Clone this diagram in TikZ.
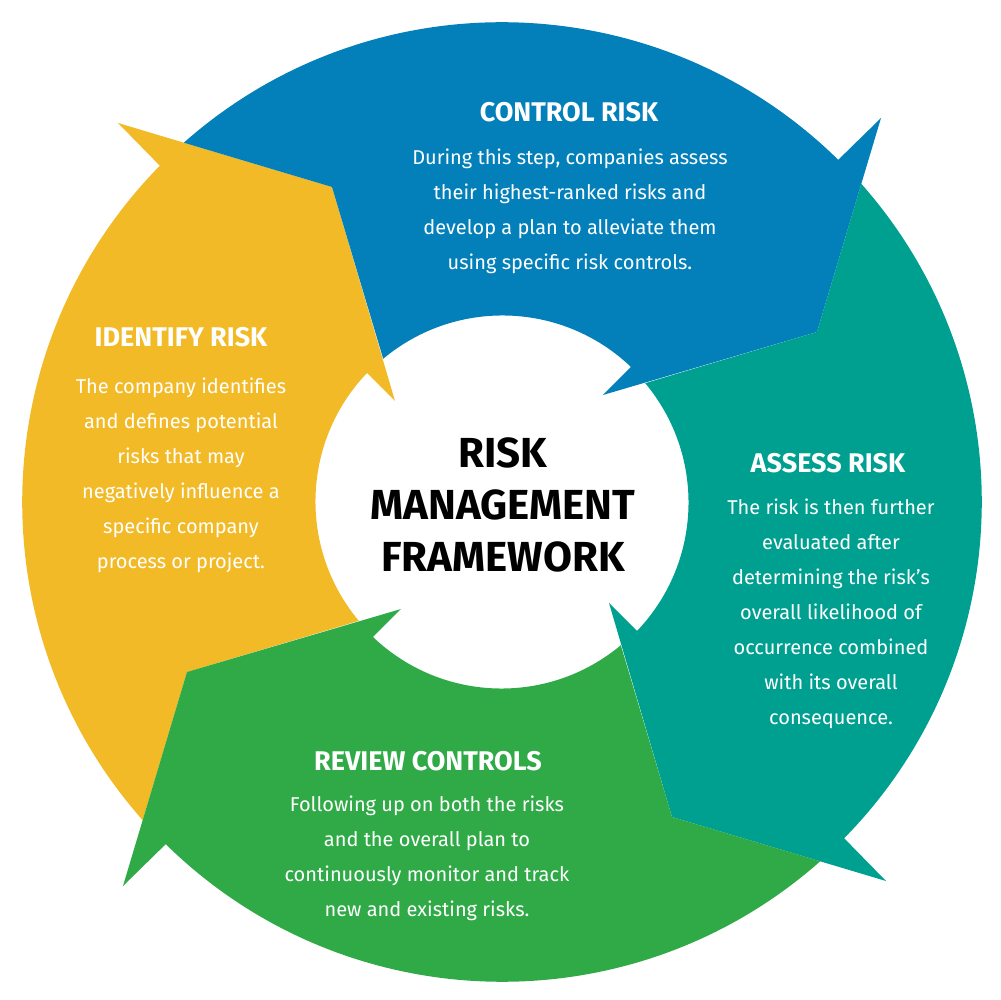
\documentclass[tikz,border=0pt]{standalone}
\usepackage{fontspec}
\setmainfont{Fira Sans}
\definecolor{cyel}{HTML}{F2BA26}
\definecolor{cblu}{HTML}{0380BA}
\definecolor{cteal}{HTML}{00A091}
\definecolor{cgrn}{HTML}{2FAA47}
\begin{document}
\begin{tikzpicture}[x=1pt,y=1pt,
  seg/.pic={\fill[pic actions] (-384,379) -- (-170,315) -- (-107,101) -- (-135,129)
      arc[start angle=136.3,end angle=219.9,radius=186pt] -- (-315,-170) -- (-359.3,-318.2)
      arc[start angle=221.5,end angle=135.5,radius=480pt] -- cycle;},
  head/.style={text=white,font=\fontsize{27}{30}\selectfont\bfseries,inner sep=0,anchor=base},
  body/.style={text=white,font=\fontsize{20}{35}\selectfont,inner sep=0,anchor=north,align=center}]
\useasboundingbox (-502,-498) rectangle (499,502);
\pic[fill=cyel] (segY) at (0,0) {seg};
\pic[fill=cblu,rotate=-90] (segB) at (0,0) {seg};
\pic[fill=cteal,rotate=-180] (segT) at (0,0) {seg};
\pic[fill=cgrn,rotate=90] (segG) at (0,0) {seg};
\node[head] (h1) at (67,380) {CONTROL RISK};
\node[body] (b1) at (68,353) {During this step, companies assess\\their highest-ranked risks and\\develop a plan to alleviate them\\using specific risk controls.};
\node[head] (h2) at (-321,155) {IDENTIFY RISK};
\node[body] (b2) at (-321,124) {The company identifies\\and defines potential\\risks that may\\negatively influence a\\specific company\\process or project.};
\node[head] (h3) at (326,29) {ASSESS RISK};
\node[body] (b3) at (329,3) {The risk is then further\\evaluated after\\determining the risk's\\overall likelihood of\\occurrence combined\\with its overall\\consequence.};
\node[head] (h4) at (-74,-269) {REVIEW CONTROLS};
\node[body] (b4) at (-75,-294) {Following up on both the risks\\and the overall plan to\\continuously monitor and track\\new and existing risks.};
\node[inner sep=0,anchor=north,align=center,font=\fontsize{42}{52}\selectfont\bfseries] (c) at (1,65) {RISK\\MANAGEMENT\\FRAMEWORK};
\end{tikzpicture}
\end{document}
